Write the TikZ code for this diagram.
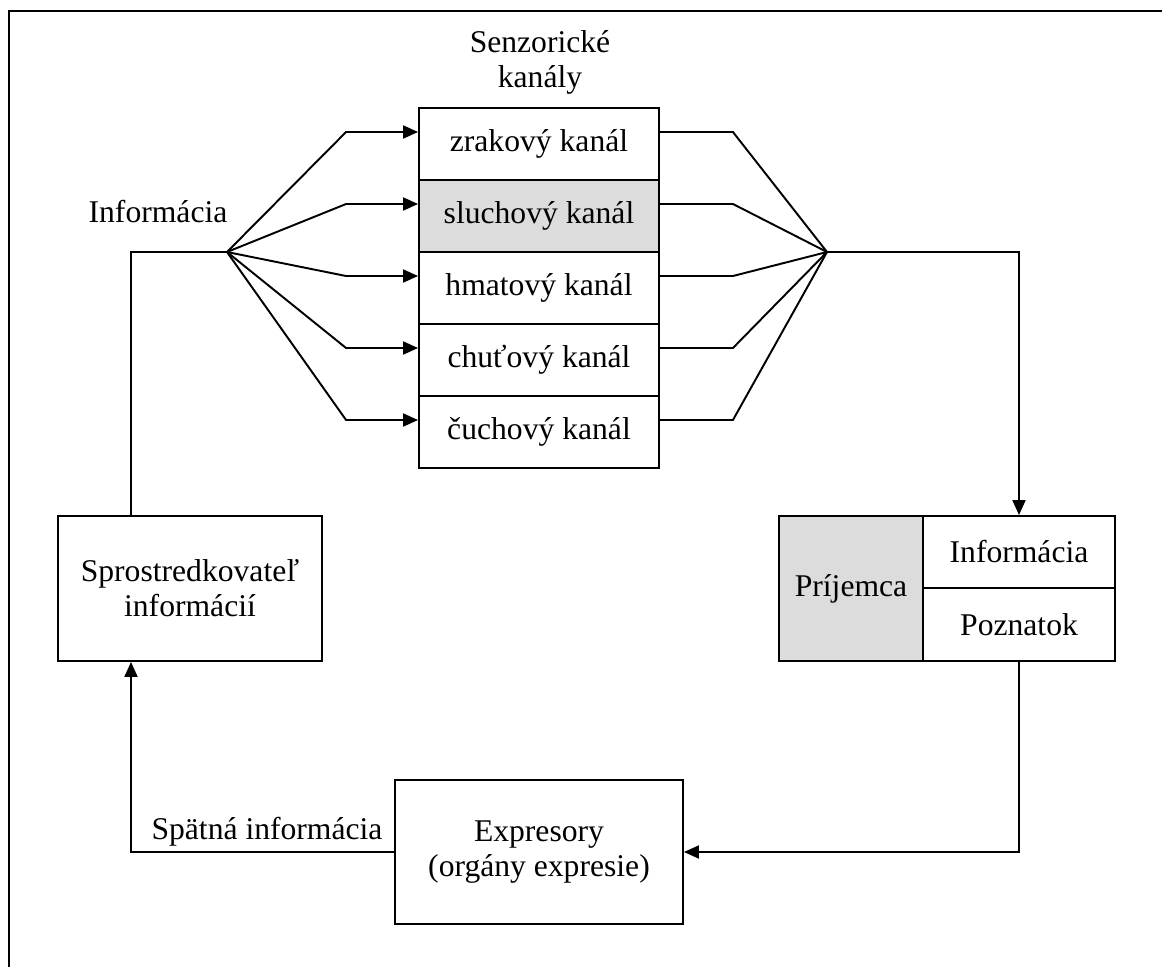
\documentclass[tikz,border=0pt]{standalone}
\usepackage{fontspec}
\setmainfont{Liberation Serif}
\usepackage{xcolor}
\usetikzlibrary{arrows.meta,positioning,calc}
\definecolor{boxgray}{RGB}{220,220,220}

\begin{document}
\begin{tikzpicture}[
    x=0.02cm, y=-0.02cm,
    every node/.style={font=\fontsize{18}{20}\selectfont},
    box/.style={draw, line width=1.1pt, inner sep=0pt, align=center},
    chan/.style={box, minimum width=4.8cm, minimum height=1.44cm},
    shade/.style={fill=boxgray},
    line/.style={-, line width=1.1pt},
    arr/.style={-{Triangle[length=0.3cm,width=0.26cm]}, line width=1.1pt}
]
    \useasboundingbox (0,0) rectangle (1162,967);
    \draw[line width=1.6pt] (9,967) -- (9,11) -- (1162,11);

    % senzoricke kanaly
    \node[align=center] (senz) at (540,62) {Senzorické\\kanály};
    \node[chan] (zrak) at (539,144) {zrakový kanál};
    \node[chan, shade] (sluch) at (539,216) {sluchový kanál};
    \node[chan] (hmat) at (539,288) {hmatový kanál};
    \node[chan] (chut) at (539,360) {chuťový kanál};
    \node[chan] (cuch) at (539,432) {čuchový kanál};

    % prijemca
    \node[box, shade, minimum width=2.88cm, minimum height=2.9cm] (prij) at (851,588.5) {Príjemca};
    \node[box, minimum width=3.84cm, minimum height=1.44cm] (info) at (1019,552) {Informácia};
    \node[box, minimum width=3.84cm, minimum height=1.46cm] (pozn) at (1019,624.5) {Poznatok};

    \node[box, minimum width=5.76cm, minimum height=2.88cm] (expr) at (539,852) {Expresory\\(orgány expresie)};
    \node[box, minimum width=5.28cm, minimum height=2.9cm] (spro) at (190,588.5) {Sprostredkovateľ\\informácií};

    \node (inflab) at (158,212) {Informácia};
    \node (spatna) at (267,832) {Spätná informácia};

    \coordinate (fanL) at (227,252);
    \coordinate (fanR) at (827,252);

    \draw[arr] (fanL) -- ($(zrak.west)+(-72,-12)$) -- ($(zrak.west)+(0,-12)$);
    \draw[arr] (fanL) -- ($(sluch.west)+(-72,-12)$) -- ($(sluch.west)+(0,-12)$);
    \draw[arr] (fanL) -- ($(hmat.west)+(-72,-12)$) -- ($(hmat.west)+(0,-12)$);
    \draw[arr] (fanL) -- ($(chut.west)+(-72,-12)$) -- ($(chut.west)+(0,-12)$);
    \draw[arr] (fanL) -- ($(cuch.west)+(-72,-12)$) -- ($(cuch.west)+(0,-12)$);

    \draw[line] ($(zrak.east)+(0,-12)$) -- ($(zrak.east)+(73,-12)$) -- (fanR);
    \draw[line] ($(sluch.east)+(0,-12)$) -- ($(sluch.east)+(73,-12)$) -- (fanR);
    \draw[line] ($(hmat.east)+(0,-12)$) -- ($(hmat.east)+(73,-12)$) -- (fanR);
    \draw[line] ($(chut.east)+(0,-12)$) -- ($(chut.east)+(73,-12)$) -- (fanR);
    \draw[line] ($(cuch.east)+(0,-12)$) -- ($(cuch.east)+(73,-12)$) -- (fanR);

    \draw[line] ($(spro.north)+(-59,0)$) |- (fanL);
    \draw[arr] (fanR) -| (info.north);
    \draw[arr] (pozn.south) |- (expr.east);
    \draw[arr] (expr.west) -| ($(spro.south)+(-59,0)$);
\end{tikzpicture}
\end{document}
